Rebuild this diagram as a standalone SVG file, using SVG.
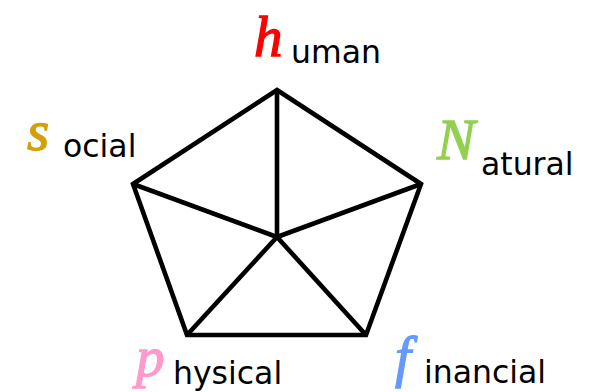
<svg xmlns="http://www.w3.org/2000/svg" width="592" height="392" viewBox="0 0 592 392">
<style>
.edge{fill:none;stroke:#000;stroke-width:4.6;stroke-linejoin:miter;stroke-linecap:butt}
.sym{font-family:"Liberation Serif",serif;font-style:italic;font-size:57px;stroke-width:1.3}
.lbl{font-family:"DejaVu Sans",sans-serif;font-size:31.5px;fill:#000}
</style>
<rect width="592" height="392" fill="#fff"/>
<g id="connectors">
<polygon class="edge" points="277,90 421,184 366,335 187,335 133,184"/>
<line class="edge" x1="277" y1="90" x2="277" y2="237"/>
<line class="edge" x1="421" y1="184" x2="277" y2="237"/>
<line class="edge" x1="366" y1="335" x2="277" y2="237"/>
<line class="edge" x1="187" y1="335" x2="277" y2="237"/>
<line class="edge" x1="133" y1="184" x2="277" y2="237"/>
</g>
<g id="human"><text class="sym" x="254" y="56" fill="#ff0000" stroke="#ff0000">h</text><text class="lbl" x="291" y="63">uman</text></g>
<g id="social"><text class="sym" x="27" y="150" fill="#d4a00a" stroke="#d4a00a">s</text><text class="lbl" x="63" y="157">ocial</text></g>
<g id="natural"><text class="sym" x="437" y="159" fill="#92d050" stroke="#92d050">N</text><text class="lbl" x="481" y="175">atural</text></g>
<g id="physical"><text class="sym" x="136" y="376" fill="#ff99cc" stroke="#ff99cc">p</text><text class="lbl" x="173" y="384">hysical</text></g>
<g id="financial"><text class="sym" x="395" y="376" fill="#6699ff" stroke="#6699ff">f</text><text class="lbl" x="424" y="383">inancial</text></g>
</svg>
